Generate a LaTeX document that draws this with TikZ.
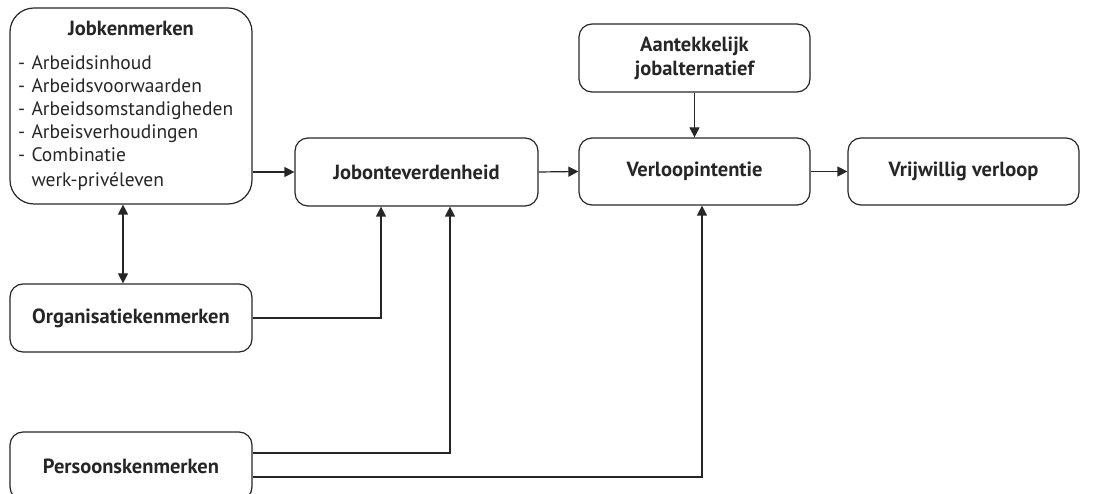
\documentclass[tikz,border=0pt]{standalone}
\usepackage{fontspec}
\setmainfont{PT Sans}
\usetikzlibrary{arrows.meta}

\begin{document}
\begin{tikzpicture}[x=1pt,y=1pt,
    box/.style={draw=black!85, line width=1.2pt, rounded corners=13pt, align=center,
      font=\fontsize{20.5}{24}\selectfont\bfseries, text=black!85, inner sep=0pt},
    arr/.style={-{Triangle[length=10pt,width=10pt]}, line width=1.2pt, draw=black!85}]
    \useasboundingbox (0,0) rectangle (1113,493);

    \node[box, rounded corners=24pt, minimum width=242pt, minimum height=196pt, text width=226pt, align=left,
      font=\fontsize{19.5}{23}\selectfont] (job) at (131,387)
      {\vspace*{6pt}\hfill{\fontsize{20.5}{24}\selectfont\bfseries Jobkenmerken}\hfill\null\\[5pt]
       - Arbeidsinhoud\\
       - Arbeidsvoorwaarden\\
       - Arbeidsomstandigheden\\
       - Arbeisverhoudingen\\
       - Combinatie\\[2pt]
       \phantom{- }werk-privéleven};
    \node[box, minimum width=243pt, minimum height=68pt] (jbo) at (416.5,321) {Jobonteverdenheid};
    \node[box, minimum width=231pt, minimum height=67pt] (verl) at (694.5,321.5) {Verloopintentie};
    \node[box, minimum width=231pt, minimum height=67pt] (vrij) at (963.5,321.5) {Vrijwillig verloop};
    \node[box, minimum width=231pt, minimum height=68pt] (aant) at (694.5,435) {Aantekkelijk\\jobalternatief};
    \node[box, minimum width=242pt, minimum height=68pt] (org) at (131,175) {Organisatiekenmerken};
    \node[box, minimum width=242pt, minimum height=68pt] (pers) at (131,27) {Persoonskenmerken};

    \draw[arr] (job.east |- jbo.west) -- (jbo.west);
    \draw[arr] (jbo.east) -- (verl.west);
    \draw[arr] (verl.east) -- (vrij.west);
    \draw[arr] (aant.south) -- (verl.north);
    \draw[arr, {Triangle[length=10pt,width=10pt]}-{Triangle[length=10pt,width=10pt]}] ([xshift=-8pt]job.south) -- ([xshift=-8pt]org.north);
    \draw[arr] (org.east) -| ([xshift=-35.5pt]jbo.south);
    \draw[arr] ([yshift=13pt]pers.east) -| ([xshift=33.5pt]jbo.south);
    \draw[arr] ([yshift=-11pt]pers.east) -| ([xshift=7.5pt]verl.south);
\end{tikzpicture}
\end{document}
